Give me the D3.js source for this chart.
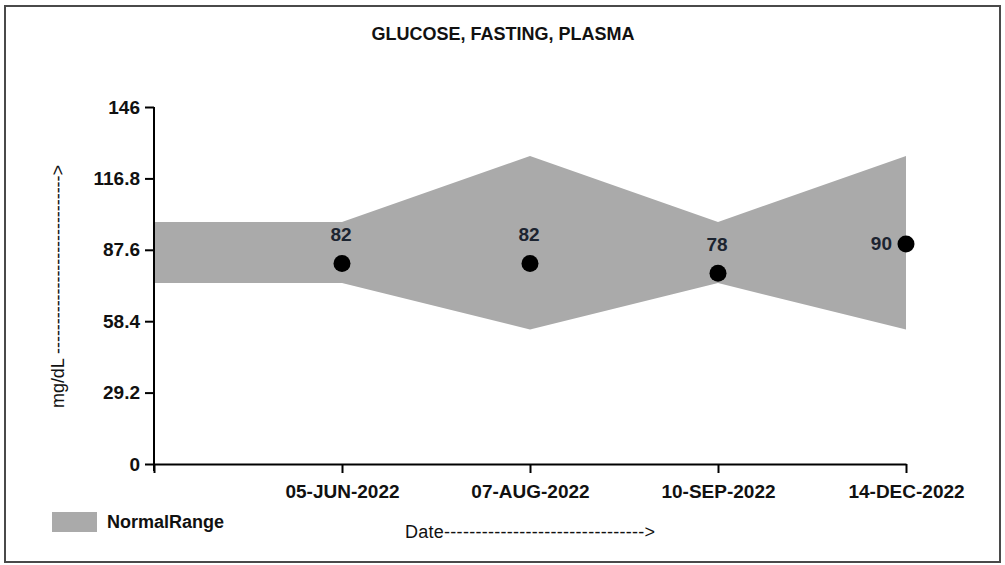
<!DOCTYPE html>
<html>
<head>
<meta charset="utf-8">
<script src="https://cdn.jsdelivr.net/npm/d3@7"></script>
<style>
  html, body { margin: 0; padding: 0; background: #fff; }
  svg { display: block; }
  text { font-family: "Liberation Sans", Arial, sans-serif; }
</style>
</head>
<body>
<svg id="chart" width="1005" height="565"></svg>
<script>
// ---- data ----
const title = "GLUCOSE, FASTING, PLASMA";
const dates = ["05-JUN-2022", "07-AUG-2022", "10-SEP-2022", "14-DEC-2022"];
const values = [82, 82, 78, 90];
const rangeLow = [74, 55, 74, 55];
const rangeHigh = [99, 126, 99, 126];
const yTicks = [0, 29.2, 58.4, 87.6, 116.8, 146];
const yTickLabels = ["0", "29.2", "58.4", "87.6", "116.8", "146"];
const legendLabel = "NormalRange";
const xAxisTitle = "Date";
const yAxisTitle = "mg/dL";

// ---- layout ----
const svg = d3.select("#chart");
const plotLeft = 154, plotRight = 906, plotTop = 107, plotBottom = 464;

svg.append("rect")
  .attr("x", 5).attr("y", 6).attr("width", 995).attr("height", 556)
  .attr("fill", "#fff").attr("stroke", "#4a4a4a").attr("stroke-width", 2);

const x = d3.scaleLinear().domain([0, dates.length]).range([plotLeft, plotRight]);
const y = d3.scaleLinear().domain([0, 146]).range([plotBottom, plotTop]);

// band: starts at the axis with the first point's range
const bandData = [{i: 0, lo: rangeLow[0], hi: rangeHigh[0]}]
  .concat(dates.map((d, k) => ({i: k + 1, lo: rangeLow[k], hi: rangeHigh[k]})));
const area = d3.area().x(d => x(d.i)).y0(d => y(d.lo)).y1(d => y(d.hi));
svg.append("path").datum(bandData).attr("d", area).attr("fill", "#aaaaaa");

// axes
const yAxis = d3.axisLeft(y).tickValues(yTicks)
  .tickFormat((d, k) => yTickLabels[k]).tickSize(9).tickSizeOuter(0).tickPadding(5);
const gy = svg.append("g").attr("transform", `translate(${plotLeft},0)`).call(yAxis);
gy.select(".domain").attr("stroke", "#000").attr("stroke-width", 2)
  .attr("d", `M0,${plotTop}V${plotBottom + 7}`);
gy.selectAll(".tick line").attr("stroke", "#000").attr("stroke-width", 2);
gy.selectAll(".tick text").attr("fill", "#111").attr("font-size", 19).attr("font-weight", "bold");

const xAxis = d3.axisBottom(x).tickValues(d3.range(0, dates.length + 1))
  .tickFormat(i => i === 0 ? "" : dates[i - 1]).tickSize(9).tickSizeOuter(0).tickPadding(12);
const gx = svg.append("g").attr("transform", `translate(0,${plotBottom})`).call(xAxis);
gx.select(".domain").attr("stroke", "#000").attr("stroke-width", 2);
gx.selectAll(".tick line").attr("stroke", "#000").attr("stroke-width", 2);
gx.selectAll(".tick text").attr("fill", "#111").attr("font-size", 19).attr("font-weight", "bold");

// points
const pts = dates.map((d, k) => ({i: k + 1, v: values[k]}));
svg.selectAll("circle.pt").data(pts).enter().append("circle")
  .attr("class", "pt")
  .attr("cx", d => x(d.i)).attr("cy", d => y(d.v)).attr("r", 8.5).attr("fill", "#000");

svg.selectAll("text.vl").data(pts).enter().append("text")
  .attr("class", "vl")
  .attr("x", (d, k) => k === pts.length - 1 ? x(d.i) - 14 : x(d.i) - 1)
  .attr("y", (d, k) => k === pts.length - 1 ? y(d.v) + 6 : y(d.v) - 22)
  .attr("text-anchor", (d, k) => k === pts.length - 1 ? "end" : "middle")
  .attr("font-size", 19).attr("font-weight", "bold").attr("fill", "#1c2430")
  .text(d => d.v);

// title
svg.append("text").attr("x", 503).attr("y", 40).attr("text-anchor", "middle")
  .attr("font-size", 18).attr("font-weight", "bold").attr("fill", "#111").text(title);

// legend
svg.append("rect").attr("x", 52).attr("y", 512).attr("width", 45).attr("height", 20).attr("fill", "#aaaaaa");
svg.append("text").attr("x", 107).attr("y", 528).attr("font-size", 18).attr("font-weight", "bold")
  .attr("fill", "#111").text(legendLabel);

// axis titles with arrows
svg.append("text").attr("x", 405).attr("y", 538).attr("font-size", 18).attr("fill", "#111")
  .attr("textLength", 250).attr("lengthAdjust", "spacing")
  .text(xAxisTitle + "-".repeat(32) + ">");

svg.append("text").attr("transform", "translate(64,408) rotate(-90)")
  .attr("font-size", 18).attr("fill", "#111")
  .attr("textLength", 243).attr("lengthAdjust", "spacing")
  .text(yAxisTitle + " " + "-".repeat(30) + ">");
</script>
</body>
</html>
